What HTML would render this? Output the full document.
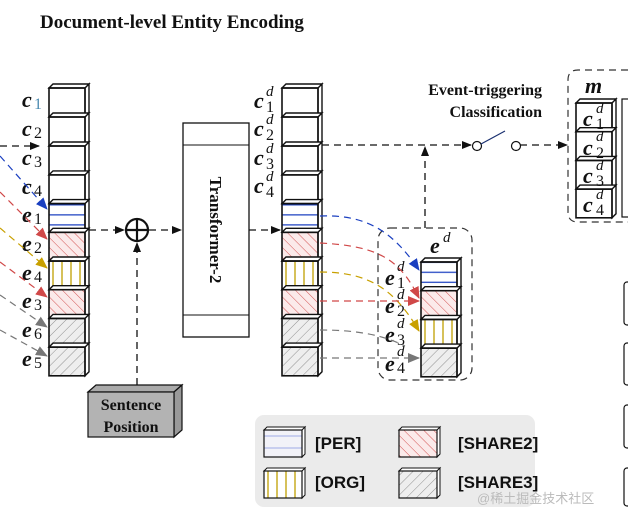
<!DOCTYPE html>
<html><head><meta charset="utf-8"><style>
html,body{margin:0;padding:0;background:#fff;}
svg{display:block;}
.lb{font-family:"Liberation Serif",serif;font-weight:bold;font-style:italic;font-size:22px;fill:#111;}
.sb{font-family:"Liberation Serif",serif;font-style:italic;font-size:15px;fill:#111;}
.sn{font-family:"Liberation Serif",serif;font-size:16px;fill:#111;}
</style></head><body>
<svg width="628" height="519" viewBox="0 0 628 519" xmlns="http://www.w3.org/2000/svg">
<defs>
<pattern id="per" width="36" height="28.7" patternUnits="userSpaceOnUse"><rect width="36" height="28.7" fill="#fff"/><line x1="0" y1="4" x2="40" y2="4" stroke="#1a3fc0" stroke-width="1.2"/><line x1="0" y1="14" x2="40" y2="14" stroke="#1a3fc0" stroke-width="1.2"/><line x1="0" y1="24" x2="40" y2="24" stroke="#1a3fc0" stroke-width="1.2"/></pattern>
<pattern id="sh2" width="7" height="7" patternUnits="userSpaceOnUse" patternTransform="rotate(-45)"><rect width="7" height="7" fill="#fbeaea"/><line x1="0" y1="0" x2="0" y2="7" stroke="#d04040" stroke-width="0.9"/></pattern>
<pattern id="org" width="9" height="30" patternUnits="userSpaceOnUse"><rect width="9" height="30" fill="#fff"/><line x1="4" y1="0" x2="4" y2="30" stroke="#c0a000" stroke-width="1.3"/></pattern>
<pattern id="sh3" width="7" height="7" patternUnits="userSpaceOnUse" patternTransform="rotate(45)"><rect width="7" height="7" fill="#eee"/><line x1="0" y1="0" x2="0" y2="7" stroke="#777" stroke-width="0.8"/></pattern>
<marker id="ak" markerWidth="10" markerHeight="8" refX="9" refY="4" orient="auto" markerUnits="userSpaceOnUse"><path d="M0,0L10,4L0,8z" fill="#111"/></marker>
<marker id="ab" markerWidth="12" markerHeight="10" refX="11" refY="5" orient="auto" markerUnits="userSpaceOnUse"><path d="M0,0L12,5L0,10z" fill="#1a3fc0"/></marker>
<marker id="ar" markerWidth="12" markerHeight="10" refX="11" refY="5" orient="auto" markerUnits="userSpaceOnUse"><path d="M0,0L12,5L0,10z" fill="#d04848"/></marker>
<marker id="ay" markerWidth="12" markerHeight="10" refX="11" refY="5" orient="auto" markerUnits="userSpaceOnUse"><path d="M0,0L12,5L0,10z" fill="#c8a000"/></marker>
<marker id="ag" markerWidth="12" markerHeight="10" refX="11" refY="5" orient="auto" markerUnits="userSpaceOnUse"><path d="M0,0L12,5L0,10z" fill="#777"/></marker>
<g id="cell"><path d="M0,0L4,-4L40,-4L36,0z M36,0L40,-4L40,24.7L36,28.7z" fill="#fff" stroke="#111" stroke-width="1.4"/><rect width="36" height="28.7" fill="none" stroke="#111" stroke-width="1.6"/></g>
</defs>

<text x="40" y="28" font-family="Liberation Serif,serif" font-weight="bold" font-size="19" fill="#111">Document-level Entity Encoding</text>

<!-- left column -->
<g transform="translate(49,0)">
 <rect x="0" y="88" width="36" height="287" fill="#fff"/>
 <rect y="203.6" width="36" height="28.7" fill="url(#per)"/>
 <rect y="232.3" width="36" height="28.7" fill="url(#sh2)"/>
 <rect y="261" width="36" height="28.7" fill="url(#org)"/>
 <rect y="289.7" width="36" height="28.7" fill="url(#sh2)"/>
 <rect y="318.4" width="36" height="28.7" fill="url(#sh3)"/>
 <rect y="347.1" width="36" height="28.7" fill="url(#sh3)"/>
 <use href="#cell" y="88"/><use href="#cell" y="117"/><use href="#cell" y="146"/><use href="#cell" y="174.9"/><use href="#cell" y="203.6"/><use href="#cell" y="232.3"/><use href="#cell" y="261"/><use href="#cell" y="289.7"/><use href="#cell" y="318.4"/><use href="#cell" y="347.1"/>
</g>
<g class="lb"><text x="22" y="107">c</text><text x="22" y="136">c</text><text x="22" y="165">c</text><text x="22" y="194">c</text><text x="22" y="222">e</text><text x="22" y="251">e</text><text x="22" y="280">e</text><text x="22" y="308">e</text><text x="22" y="337">e</text><text x="22" y="366">e</text></g>
<g class="sn"><text x="34" y="109" fill="#4a8ab0">1</text><text x="34" y="138">2</text><text x="34" y="167">3</text><text x="34" y="196">4</text><text x="34" y="224">1</text><text x="34" y="253">2</text><text x="34" y="282">4</text><text x="34" y="310">3</text><text x="34" y="339">6</text><text x="34" y="368">5</text></g>

<g fill="none" stroke-width="1.2" stroke-dasharray="7,5">
 <line x1="0" y1="146" x2="39" y2="146" stroke="#111" marker-end="url(#ak)"/>
 <line x1="0" y1="156" x2="47" y2="209" stroke="#1a3fc0" marker-end="url(#ab)"/>
 <line x1="0" y1="192" x2="47" y2="239" stroke="#d04848" marker-end="url(#ar)"/>
 <line x1="0" y1="228" x2="47" y2="268" stroke="#c8a000" marker-end="url(#ay)"/>
 <line x1="0" y1="262" x2="47" y2="297" stroke="#d04848" marker-end="url(#ar)"/>
 <line x1="0" y1="295" x2="47" y2="327" stroke="#777" marker-end="url(#ag)"/>
 <line x1="0" y1="330" x2="47" y2="356" stroke="#777" marker-end="url(#ag)"/>
</g>

<g fill="none" stroke="#111" stroke-width="1.3" stroke-dasharray="7,5">
 <line x1="89" y1="230" x2="124" y2="230" marker-end="url(#ak)"/>
 <line x1="149" y1="230" x2="181" y2="230" marker-end="url(#ak)"/>
 <line x1="137" y1="385" x2="137" y2="243" marker-end="url(#ak)"/>
 <line x1="249" y1="230" x2="280" y2="230" marker-end="url(#ak)"/>
</g>
<circle cx="137" cy="230" r="11" fill="#fff" stroke="#111" stroke-width="2.2"/>
<line x1="126" y1="230" x2="148" y2="230" stroke="#111" stroke-width="2.2"/>
<line x1="137" y1="219" x2="137" y2="241" stroke="#111" stroke-width="2.2"/>

<rect x="183" y="123" width="66" height="214" fill="#fff" stroke="#111" stroke-width="1.3"/>
<line x1="183" y1="145" x2="249" y2="145" stroke="#111" stroke-width="1.1"/>
<line x1="183" y1="315" x2="249" y2="315" stroke="#111" stroke-width="1.1"/>
<text transform="translate(210,230) rotate(90)" text-anchor="middle" font-family="Liberation Serif,serif" font-weight="bold" font-size="17" fill="#111">Transformer-2</text>

<path d="M88,392L96,385L182,385L174,392z" fill="#aaa" stroke="#111" stroke-width="1.2"/>
<path d="M174,392L182,385L182,430L174,437z" fill="#999" stroke="#111" stroke-width="1.2"/>
<rect x="88" y="392" width="86" height="45" fill="#b3b3b3" stroke="#111" stroke-width="1.2"/>
<text x="131" y="410" text-anchor="middle" font-family="Liberation Serif,serif" font-weight="bold" font-size="16" fill="#111">Sentence</text>
<text x="131" y="432" text-anchor="middle" font-family="Liberation Serif,serif" font-weight="bold" font-size="16" fill="#111">Position</text>

<!-- middle column -->
<g transform="translate(282,0)">
 <rect x="0" y="88" width="36" height="287" fill="#fff"/>
 <rect y="203.6" width="36" height="28.7" fill="url(#per)"/>
 <rect y="232.3" width="36" height="28.7" fill="url(#sh2)"/>
 <rect y="261" width="36" height="28.7" fill="url(#org)"/>
 <rect y="289.7" width="36" height="28.7" fill="url(#sh2)"/>
 <rect y="318.4" width="36" height="28.7" fill="url(#sh3)"/>
 <rect y="347.1" width="36" height="28.7" fill="url(#sh3)"/>
 <use href="#cell" y="88"/><use href="#cell" y="117"/><use href="#cell" y="146"/><use href="#cell" y="174.9"/><use href="#cell" y="203.6"/><use href="#cell" y="232.3"/><use href="#cell" y="261"/><use href="#cell" y="289.7"/><use href="#cell" y="318.4"/><use href="#cell" y="347.1"/>
</g>
<g class="lb"><text x="254" y="108">c</text><text x="254" y="136">c</text><text x="254" y="165">c</text><text x="254" y="193">c</text></g>
<g class="sb"><text x="266" y="96">d</text><text x="266" y="124">d</text><text x="266" y="153">d</text><text x="266" y="181">d</text></g>
<g class="sn"><text x="266" y="112">1</text><text x="266" y="140">2</text><text x="266" y="169">3</text><text x="266" y="197">4</text></g>

<!-- e^d box -->
<rect x="378" y="228" width="94" height="152" rx="12" fill="none" stroke="#333" stroke-width="1.2" stroke-dasharray="7,5"/>
<text x="430" y="253" class="lb">e</text><text x="443" y="242" class="sb">d</text>
<g transform="translate(421,0)">
 <rect y="262" width="36" height="28.7" fill="url(#per)"/>
 <rect y="290.7" width="36" height="28.7" fill="url(#sh2)"/>
 <rect y="319.4" width="36" height="28.7" fill="url(#org)"/>
 <rect y="348.1" width="36" height="28.7" fill="url(#sh3)"/>
 <use href="#cell" y="262"/><use href="#cell" y="290.7"/><use href="#cell" y="319.4"/><use href="#cell" y="348.1"/>
</g>
<g class="lb"><text x="385" y="285">e</text><text x="385" y="313">e</text><text x="385" y="342">e</text><text x="385" y="371">e</text></g>
<g class="sb"><text x="397" y="271">d</text><text x="397" y="299">d</text><text x="397" y="328">d</text><text x="397" y="356">d</text></g>
<g class="sn"><text x="397" y="288">1</text><text x="397" y="316">2</text><text x="397" y="345">3</text><text x="397" y="373">4</text></g>

<g fill="none" stroke-width="1.2" stroke-dasharray="7,5">
 <path d="M320,216 C370,214 395,235 419,270" stroke="#1a3fc0" marker-end="url(#ab)"/>
 <path d="M320,243 C380,246 400,260 419,298" stroke="#d04848" marker-end="url(#ar)"/>
 <path d="M320,272 C370,272 395,290 419,331" stroke="#c8a000" marker-end="url(#ay)"/>
 <path d="M320,301 L419,301" stroke="#d04848" marker-end="url(#ar)"/>
 <path d="M320,330 C360,330 385,336 405,346" stroke="#777"/>
 <path d="M320,358 L419,358" stroke="#777" marker-end="url(#ag)"/>
</g>

<g fill="none" stroke="#111" stroke-width="1.3" stroke-dasharray="7,5">
 <line x1="322" y1="145" x2="471" y2="145" marker-end="url(#ak)"/>
 <line x1="425" y1="228" x2="425" y2="147" marker-end="url(#ak)"/>
 <line x1="520" y1="145" x2="567" y2="145" marker-end="url(#ak)"/>
</g>
<circle cx="477" cy="146" r="4.5" fill="#fff" stroke="#111" stroke-width="1.2"/>
<circle cx="516" cy="146" r="4.5" fill="#fff" stroke="#111" stroke-width="1.2"/>
<line x1="481" y1="144" x2="505" y2="131" stroke="#1a3070" stroke-width="1.2"/>
<text x="542" y="95" text-anchor="end" font-family="Liberation Serif,serif" font-weight="bold" font-size="16" fill="#111">Event-triggering</text>
<text x="542" y="117" text-anchor="end" font-family="Liberation Serif,serif" font-weight="bold" font-size="16" fill="#111">Classification</text>

<!-- m box -->
<path d="M640,70 L578,70 Q568,70 568,80 L568,212 Q568,222 578,222 L640,222" fill="none" stroke="#333" stroke-width="1.2" stroke-dasharray="7,5"/>
<text x="585" y="93" class="lb">m</text>
<g transform="translate(576,0)">
 <use href="#cell" y="103"/><use href="#cell" y="131.7"/><use href="#cell" y="160.4"/><use href="#cell" y="189.1"/>
</g>
<rect x="622" y="99" width="8" height="118" fill="#fff" stroke="#111" stroke-width="1.2"/>
<g class="lb"><text x="583" y="126">c</text><text x="583" y="155">c</text><text x="583" y="183">c</text><text x="583" y="212">c</text></g>
<g class="sb"><text x="596" y="113">d</text><text x="596" y="141">d</text><text x="596" y="170">d</text><text x="596" y="199">d</text></g>
<g class="sn"><text x="596" y="129">1</text><text x="596" y="158">2</text><text x="596" y="186">3</text><text x="596" y="215">4</text></g>

<g fill="#fff" stroke="#111" stroke-width="1.2">
 <rect x="624" y="282" width="8" height="43" rx="3"/>
 <rect x="624" y="343" width="8" height="42" rx="3"/>
 <rect x="624" y="405" width="8" height="43" rx="3"/>
 <rect x="624" y="468" width="8" height="38" rx="3"/>
</g>

<!-- legend -->
<rect x="255" y="415" width="280" height="92" rx="9" fill="#ebebeb"/>
<g transform="translate(264,0)">
 <rect y="430" width="38" height="27" fill="#f2f2f8"/>
 <line x1="0" y1="436" x2="38" y2="436" stroke="#8090e0" stroke-width="0.8"/><line x1="0" y1="448" x2="38" y2="448" stroke="#8090e0" stroke-width="0.8"/>
 <path d="M0,430L3,427L41,427L38,430z M38,430L41,427L41,454L38,457z" fill="#fff" stroke="#111" stroke-width="1"/>
 <rect y="430" width="38" height="27" fill="none" stroke="#111" stroke-width="1.2"/>
 <rect y="471" width="38" height="27" fill="url(#org)"/>
 <path d="M0,471L3,468L41,468L38,471z M38,471L41,468L41,495L38,498z" fill="#fff" stroke="#111" stroke-width="1"/>
 <rect y="471" width="38" height="27" fill="none" stroke="#111" stroke-width="1.2"/>
</g>
<g transform="translate(399,0)">
 <rect y="430" width="38" height="27" fill="url(#sh2)"/>
 <path d="M0,430L3,427L41,427L38,430z M38,430L41,427L41,454L38,457z" fill="#fff" stroke="#111" stroke-width="1"/>
 <rect y="430" width="38" height="27" fill="none" stroke="#111" stroke-width="1.2"/>
 <rect y="471" width="38" height="27" fill="url(#sh3)"/>
 <path d="M0,471L3,468L41,468L38,471z M38,471L41,468L41,495L38,498z" fill="#fff" stroke="#111" stroke-width="1"/>
 <rect y="471" width="38" height="27" fill="none" stroke="#111" stroke-width="1.2"/>
</g>
<g font-family="Liberation Sans,sans-serif" font-weight="bold" font-size="17" fill="#111">
 <text x="315" y="449">[PER]</text><text x="315" y="488">[ORG]</text>
 <text x="458" y="449">[SHARE2]</text><text x="458" y="488">[SHARE3]</text>
</g>
<text x="477" y="503" font-family="Liberation Sans,Noto Sans CJK SC,sans-serif" font-size="13" fill="#bbb">@稀土掘金技术社区</text>
</svg>
</body></html>
